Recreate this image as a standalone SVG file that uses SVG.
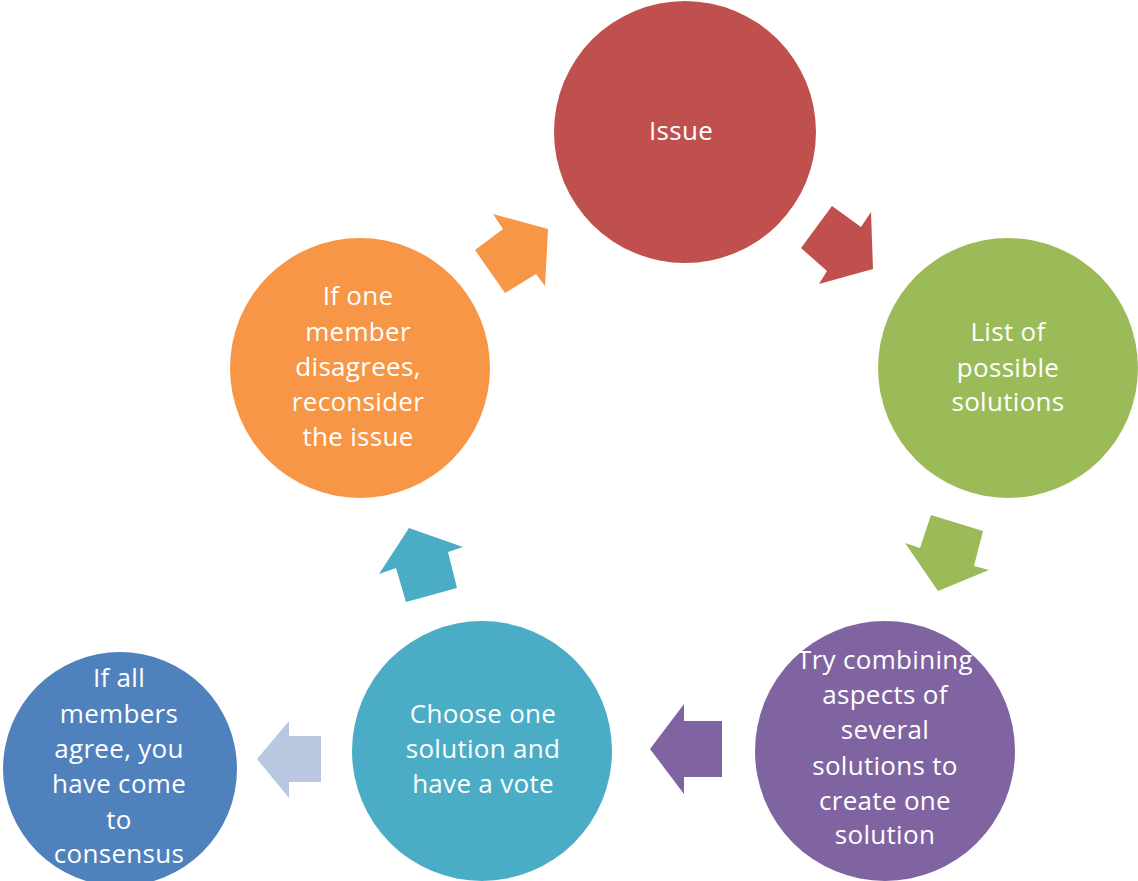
<svg xmlns="http://www.w3.org/2000/svg" width="1138" height="881" viewBox="0 0 1138 881">
  <style>
    .lbl { font-family: "Open Sans", "Liberation Sans", sans-serif; font-size: 26px; letter-spacing: 0.3px; fill: #ffffff; text-anchor: middle; }
  </style>
  <rect width="1138" height="881" fill="#ffffff"/>

  <!-- cycle arrows -->
  <g id="connectors">
    <polygon fill="#C0504D" points="832,206 861,227 871,212 873,269 819,284 827,271 801,248"/>
    <polygon fill="#9BBB59" points="931,515 983,531 974,566 989,570 938,591 905,543 920,548"/>
    <polygon fill="#8064A2" points="684,704 684,721 722,721 722,777 684,777 684,794 650,749"/>
    <polygon fill="#4BACC6" points="409,528 463,547 448,552 457,588 406,602 396,568 379,574"/>
    <polygon fill="#F79646" points="493,214 548,229 545,286 536,274 505,293 475,250 503,229"/>
    <polygon fill="#B9C8E0" points="289,721 289,736 321,736 321,782 289,782 289,798 257,759"/>
  </g>

  <g id="issue">
    <circle cx="685" cy="132" r="131" fill="#C0504D"/>
    <text class="lbl" x="681" y="140">Issue</text>
  </g>

  <g id="list-solutions">
    <circle cx="1008" cy="368" r="130" fill="#9BBB59"/>
    <text class="lbl" x="1008" y="341">List of</text>
    <text class="lbl" x="1008" y="377">possible</text>
    <text class="lbl" x="1008" y="411">solutions</text>
  </g>

  <g id="combine">
    <circle cx="885" cy="751" r="130" fill="#8064A2"/>
    <text class="lbl" x="885" y="669">Try combining</text>
    <text class="lbl" x="885" y="704">aspects of</text>
    <text class="lbl" x="885" y="739">several</text>
    <text class="lbl" x="885" y="775">solutions to</text>
    <text class="lbl" x="885" y="810">create one</text>
    <text class="lbl" x="885" y="844">solution</text>
  </g>

  <g id="vote">
    <circle cx="482" cy="751" r="130" fill="#4BACC6"/>
    <text class="lbl" x="483" y="723">Choose one</text>
    <text class="lbl" x="483" y="758">solution and</text>
    <text class="lbl" x="483" y="793">have a vote</text>
  </g>

  <g id="reconsider">
    <circle cx="360" cy="368" r="130" fill="#F79646"/>
    <text class="lbl" x="358" y="305">If one</text>
    <text class="lbl" x="358" y="341">member</text>
    <text class="lbl" x="358" y="376">disagrees,</text>
    <text class="lbl" x="358" y="411">reconsider</text>
    <text class="lbl" x="358" y="446">the issue</text>
  </g>

  <g id="consensus">
    <circle cx="120" cy="769" r="117" fill="#4F81BD"/>
    <text class="lbl" x="119" y="687">If all</text>
    <text class="lbl" x="119" y="723">members</text>
    <text class="lbl" x="119" y="758">agree, you</text>
    <text class="lbl" x="119" y="793">have come</text>
    <text class="lbl" x="119" y="829">to</text>
    <text class="lbl" x="119" y="863">consensus</text>
  </g>
</svg>
